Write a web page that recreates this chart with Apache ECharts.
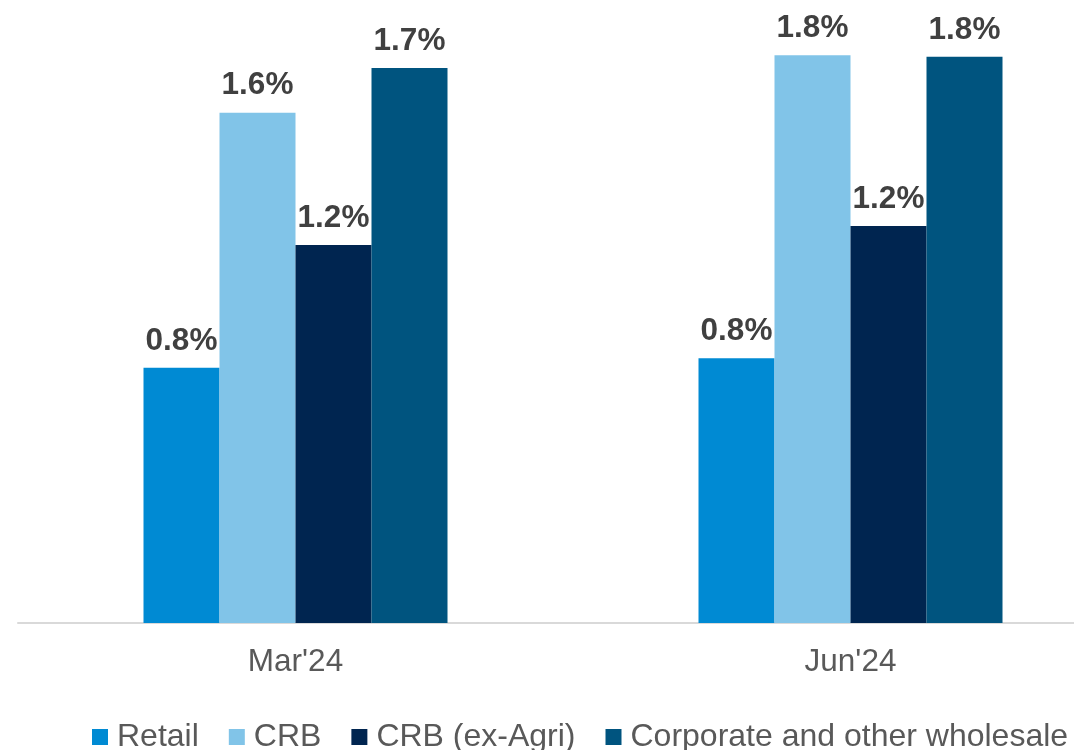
<!DOCTYPE html>
<html>
<head>
<meta charset="utf-8">
<script src="https://cdn.jsdelivr.net/npm/echarts@6/dist/echarts.min.js"></script>
<style>html,body{margin:0;padding:0;background:#fff}#c{width:1074px;height:750px}</style>
</head>
<body>
<div id="c"></div>
<script>
const categories = ["Mar'24", "Jun'24"];
const seriesNames = ["Retail", "CRB", "CRB (ex-Agri)", "Corporate and other wholesale"];
const retail = [0.80, 0.83];
const crb = [1.60, 1.78];
const crbExAgri = [1.185, 1.245];
const corporate = [1.74, 1.775];
const colors = ["#008AD3", "#81C4E8", "#002550", "#00547F"];

const dataSets = [retail, crb, crbExAgri, corporate];
const chart = echarts.init(document.getElementById('c'));
chart.setOption({
  animation: false,
  textStyle: { fontFamily: 'Liberation Sans, Arial, sans-serif' },
  grid: { left: 18, width: 1110, top: 17, bottom: 127, outerBoundsMode: 'none', containLabel: false },
  xAxis: {
    type: 'category',
    data: categories,
    axisLine: { lineStyle: { color: '#d9d9d9', width: 2 } },
    axisTick: { show: false },
    axisLabel: { color: '#595959', fontSize: 31.5, margin: 23 }
  },
  yAxis: { type: 'value', min: 0, max: 1.9, show: false, splitLine: { show: false } },
  legend: {
    left: 87, top: 716, width: 1200,
    itemWidth: 16, itemHeight: 16, itemGap: 30,
    icon: 'rect',
    textStyle: { color: '#595959', fontSize: 32, padding: [0, 0, 0, 4] },
    data: seriesNames
  },
  series: dataSets.map((d, i) => ({
    name: seriesNames[i],
    type: 'bar',
    data: d,
    barWidth: 76,
    barGap: '0%',
    itemStyle: { color: colors[i] },
    label: {
      show: true, position: 'top', distance: 11,
      color: '#404040', fontSize: 31.5, fontWeight: 'bold',
      formatter: p => p.value.toFixed(1) + '%'
    }
  }))
});
</script>
</body>
</html>
